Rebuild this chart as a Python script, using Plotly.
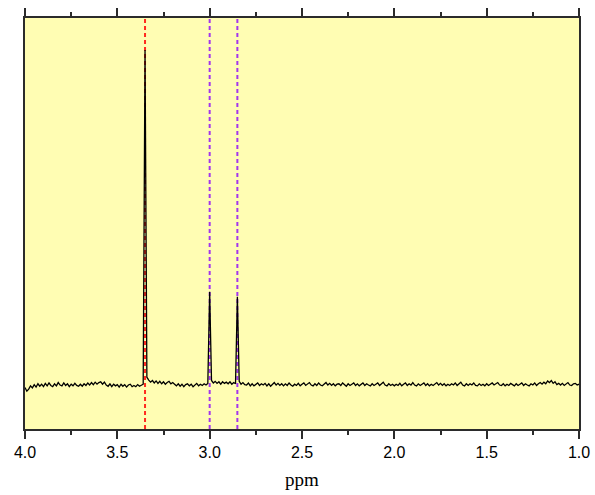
import numpy as np
import plotly.graph_objects as go

# Spectrum sampled every 0.01 ppm from 4.00 down to 1.00
ppm_start = 4.00
ppm_step = 0.01
intensity = [
    10.1, 9.2, 9.7, 10.5, 10.0, 10.8, 10.2, 11.0, 10.4, 10.9,   # 4.00-3.91
    10.3, 11.1, 10.5, 11.2, 10.6, 10.3, 11.0, 10.5, 11.3, 10.7,  # 3.90-3.81
    10.5, 11.2, 10.6, 11.0, 10.3, 10.9, 10.5, 11.1, 10.6, 10.4,  # 3.80-3.71
    10.9, 10.4, 11.0, 10.6, 11.2, 10.7, 11.3, 10.8, 11.4, 10.9,  # 3.70-3.61
    11.3, 11.5, 10.9, 11.4, 10.7, 10.4, 11.0, 10.3, 10.9, 10.5,  # 3.60-3.51
    10.8, 10.2, 10.9, 10.4, 10.8, 10.2, 10.7, 10.9, 10.3, 10.6,  # 3.50-3.41
    10.3, 10.8, 10.4, 10.7, 10.9, 92.2, 12.6, 11.9, 11.4, 11.8,  # 3.40-3.31
    11.2, 11.7, 11.1, 11.6, 11.0, 11.5, 10.9, 11.3, 11.6, 11.0,  # 3.30-3.21
    11.3, 10.9, 10.5, 11.0, 10.4, 10.9, 10.3, 10.8, 11.0, 10.5,  # 3.20-3.11
    10.9, 10.3, 10.8, 11.1, 10.5, 10.9, 10.6, 11.0, 10.7, 11.1,  # 3.10-3.01
    33.4, 11.8, 11.2, 11.6, 11.1, 11.5, 10.9, 11.5, 11.1, 11.4,  # 3.00-2.91
    11.0, 11.5, 10.9, 11.3, 11.0, 32.2, 11.6, 10.9, 11.3, 10.8,  # 2.90-2.81
    10.7, 11.2, 10.5, 11.0, 10.5, 10.9, 11.2, 10.6, 11.0, 10.7,  # 2.80-2.71
    11.1, 10.5, 11.0, 10.4, 10.9, 11.3, 10.7, 11.1, 10.6, 11.0,  # 2.70-2.61
    10.5, 11.0, 10.6, 11.2, 10.7, 10.4, 10.9, 10.6, 11.1, 10.5,  # 2.60-2.51
    10.9, 11.2, 10.6, 11.0, 11.3, 10.7, 10.5, 11.0, 10.6, 11.2,  # 2.50-2.41
    10.7, 10.5, 11.0, 11.3, 10.7, 11.1, 10.6, 11.0, 10.5, 10.9,  # 2.40-2.31
    11.0, 10.6, 11.2, 10.7, 10.4, 11.0, 10.6, 10.9, 11.2, 10.6,  # 2.30-2.21
    11.0, 10.5, 10.9, 11.2, 10.6, 11.0, 10.7, 10.5, 11.0, 10.6,  # 2.20-2.11
    10.9, 11.2, 10.6, 11.0, 11.4, 10.7, 10.5, 11.0, 10.6, 10.9,  # 2.10-2.01
    10.5, 10.9, 10.6, 11.1, 10.5, 10.9, 11.2, 10.6, 11.0, 10.7,  # 2.00-1.91
    11.3, 10.7, 10.5, 11.0, 10.6, 10.9, 11.2, 10.6, 11.0, 10.5,  # 1.90-1.81
    10.9, 10.6, 11.0, 11.3, 10.7, 11.1, 10.6, 11.0, 10.5, 10.9,  # 1.80-1.71
    10.6, 11.0, 10.7, 11.2, 10.6, 11.0, 11.4, 10.7, 10.5, 11.0,  # 1.70-1.61
    10.6, 11.0, 10.7, 11.2, 10.6, 10.5, 11.0, 10.6, 10.9, 10.5,  # 1.60-1.51
    11.0, 10.6, 10.9, 11.2, 10.7, 11.0, 11.3, 10.7, 10.6, 11.0,  # 1.50-1.41
    10.5, 10.9, 10.6, 11.1, 10.7, 10.5, 11.0, 10.6, 10.9, 11.2,  # 1.40-1.31
    10.6, 11.0, 10.7, 10.5, 11.0, 10.7, 11.2, 10.6, 11.0, 11.3,  # 1.30-1.21
    10.9, 11.4, 11.0, 11.7, 11.3, 11.8, 11.1, 11.5, 10.8, 11.1,  # 1.20-1.11
    10.7, 11.1, 10.6, 11.0, 11.3, 10.7, 10.6, 11.0, 11.1, 10.7,  # 1.10-1.01
    10.9,                                                        # 1.00
]
ppm = np.round(ppm_start - ppm_step * np.arange(len(intensity)), 2)

# Marker lines
red_lines = [3.35]
purple_lines = [3.00, 2.85]

x_ticks = [4.0, 3.5, 3.0, 2.5, 2.0, 1.5, 1.0]

AXIS = '#2b2b2b'

fig = go.Figure()
fig.add_trace(go.Scatter(
    x=ppm, y=intensity, mode='lines',
    line=dict(color='black', width=1.3),
    showlegend=False, hoverinfo='skip'
))

for xv in red_lines:
    fig.add_vline(x=xv, layer='below', line=dict(color='#ff2a1f', width=2, dash='4px,3px'))
for xv in purple_lines:
    fig.add_vline(x=xv, layer='below', line=dict(color='#a335ee', width=2, dash='4px,3px'))

fig.update_layout(
    width=595, height=495,
    plot_bgcolor='#fffdb3',
    paper_bgcolor='white',
    margin=dict(l=25, r=16, t=18, b=66),
    showlegend=False,
    xaxis=dict(
        range=[4.0, 1.0],
        tickvals=x_ticks,
        tickformat='.1f',
        ticks='outside', ticklen=8, tickwidth=1.5, tickcolor=AXIS,
        minor=dict(ticks='outside', ticklen=4, tickwidth=1.5, tickcolor=AXIS, dtick=0.25,
                   tick0=1.0),
        showline=True, linecolor=AXIS, linewidth=2, mirror='ticks',
        showgrid=False, zeroline=False, automargin=False,
        tickfont=dict(family='Liberation Sans, Arial', size=16, color='black'),
        title=dict(text='ppm', standoff=12,
                   font=dict(family='Liberation Serif, Times New Roman', size=19, color='black')),
    ),
    yaxis=dict(
        range=[0, 100],
        showticklabels=False, ticks='',
        showline=True, linecolor=AXIS, linewidth=2, mirror=True,
        showgrid=False, zeroline=False,
    ),
)

# drop the default 8px page margin so the 595x495 figure fills the window
fig.write_html("out.html",
               config={'displayModeBar': False},
               post_script="document.body.style.margin='0';document.body.style.overflow='hidden';")
